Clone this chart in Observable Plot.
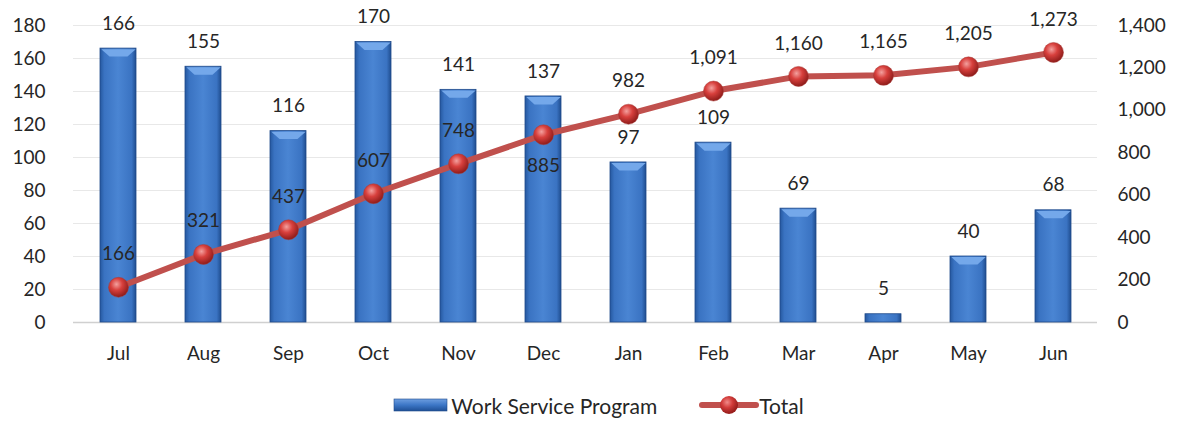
<!DOCTYPE html>
<html><head><meta charset="utf-8">
<script src="https://cdn.jsdelivr.net/npm/d3@7"></script>
<script src="https://cdn.jsdelivr.net/npm/@observablehq/plot@0.6"></script>
<style>
body{margin:0;background:#fff;font-family:Lato,"Open Sans",sans-serif;}
#legend{display:flex;justify-content:center;align-items:center;height:48px;font-size:21px;color:#262626;margin-left:14px;margin-top:6px}
.item{display:flex;align-items:center;margin:0 14px}
</style></head>
<body>
<div id="chart"></div>
<div id="legend">
  <div class="item"><svg width="58" height="16"><defs><linearGradient id="lg1" x1="0" y1="0" x2="0" y2="1"><stop offset="0" stop-color="#6d9ee0"/><stop offset="0.5" stop-color="#3c76c6"/><stop offset="1" stop-color="#1f4f95"/></linearGradient></defs><rect x="1" y="2" width="53" height="12" fill="url(#lg1)" stroke="#1f4a8a" stroke-width="0.6"/></svg><span>Work Service Program</span></div>
  <div class="item" style="margin-left:28px"><svg width="60" height="24"><defs><radialGradient id="rg1" cx="0.4" cy="0.35" r="0.6"><stop offset="0" stop-color="#f08a88"/><stop offset="0.5" stop-color="#d23c3a"/><stop offset="1" stop-color="#9a1f1d"/></radialGradient></defs><line x1="3" y1="12" x2="57" y2="12" stroke="#c0504d" stroke-width="6" stroke-linecap="round"/><circle cx="30" cy="12" r="9" fill="url(#rg1)"/></svg><span>Total</span></div>
</div>
<script>
const months = ["Jul","Aug","Sep","Oct","Nov","Dec","Jan","Feb","Mar","Apr","May","Jun"];
const program = [166,155,116,170,141,137,97,109,69,5,40,68];
const total = [166,321,437,607,748,885,982,1091,1160,1165,1205,1273];
const leftTicks = [0,20,40,60,80,100,120,140,160,180];
const rightTicks = [0,200,400,600,800,1000,1200,1400];
const labelBelow = ["Dec"];

const k = 180/1400;
const bars = months.map((m,i)=>({month:m, value:program[i]}));
const pts = months.map((m,i)=>({month:m, total:total[i], y:total[i]*k}));
const fmt = d3.format(",");

// bevel cap drawn as a trapezoid just under each bar top
const bevel = {draw(ctx){ctx.moveTo(-17.2,0.6);ctx.lineTo(17.2,0.6);ctx.lineTo(9,8);ctx.lineTo(-9,8);ctx.closePath();}};

const plot = Plot.plot({
  width:1183, height:375,
  marginTop:25, marginBottom:53, marginLeft:73, marginRight:86,
  style:{fontFamily:"Lato, 'Open Sans', sans-serif", fontSize:"19px", color:"#262626", background:"#fff"},
  x:{domain:months, paddingInner:0.58, paddingOuter:0.29, label:null},
  y:{domain:[0,180], label:null},
  marks:[
    Plot.gridY(leftTicks,{stroke:"#e8e8e8", strokeOpacity:1}),
    Plot.ruleY([0],{stroke:"#d0d0d0", strokeWidth:1.5}),
    Plot.axisX({tickSize:0, tickPadding:24, fontSize:19}),
    Plot.axisY({ticks:leftTicks, tickSize:0, tickPadding:28, fontSize:19}),
    Plot.axisY({anchor:"right", ticks:rightTicks.map(v=>v*k), tickSize:0, tickPadding:20, fontSize:19, textAnchor:"start", tickFormat:d=>fmt(Math.round(d/k))}),
    Plot.barY(bars,{x:"month", y:"value", fill:"url(#barGrad)", stroke:"#1f4a8a", strokeWidth:0.8}),
    Plot.dot(bars.filter(d=>d.value>=6),{x:"month", y:"value", symbol:bevel, r:5, fill:"#74a8ea", stroke:"none"}),
    Plot.text(bars,{x:"month", y:"value", text:d=>fmt(d.value), dy:-25, fontSize:19, fill:"#262626"}),
    Plot.line(pts,{x:"month", y:"y", stroke:"#c0504d", strokeWidth:6}),
    Plot.dot(pts,{x:"month", y:"y", r:10, fill:"url(#dotGrad)", stroke:"#a83a37", strokeWidth:0.5}),
    Plot.text(pts.filter(d=>!labelBelow.includes(d.month)),{x:"month", y:"y", text:d=>fmt(d.total), dy:-33, fontSize:19, fill:"#262626"}),
    Plot.text(pts.filter(d=>labelBelow.includes(d.month)),{x:"month", y:"y", text:d=>fmt(d.total), dy:31, fontSize:19, fill:"#262626"})
  ]
});
document.getElementById("chart").appendChild(plot);
const svg = d3.select(plot);
const defs = svg.insert("defs",":first-child");
const bg = defs.append("linearGradient").attr("id","barGrad").attr("x1",0).attr("x2",1).attr("y1",0).attr("y2",0);
bg.append("stop").attr("offset",0).attr("stop-color","#25589f");
bg.append("stop").attr("offset",0.12).attr("stop-color","#3a73c2");
bg.append("stop").attr("offset",0.5).attr("stop-color","#4a85d3");
bg.append("stop").attr("offset",0.88).attr("stop-color","#3a73c2");
bg.append("stop").attr("offset",1).attr("stop-color","#1f4d8f");
const rg = defs.append("radialGradient").attr("id","dotGrad").attr("cx",0.4).attr("cy",0.35).attr("r",0.65);
rg.append("stop").attr("offset",0).attr("stop-color","#f3a09e");
rg.append("stop").attr("offset",0.45).attr("stop-color","#d8403d");
rg.append("stop").attr("offset",1).attr("stop-color","#8f1c1a");
</script>
</body></html>
